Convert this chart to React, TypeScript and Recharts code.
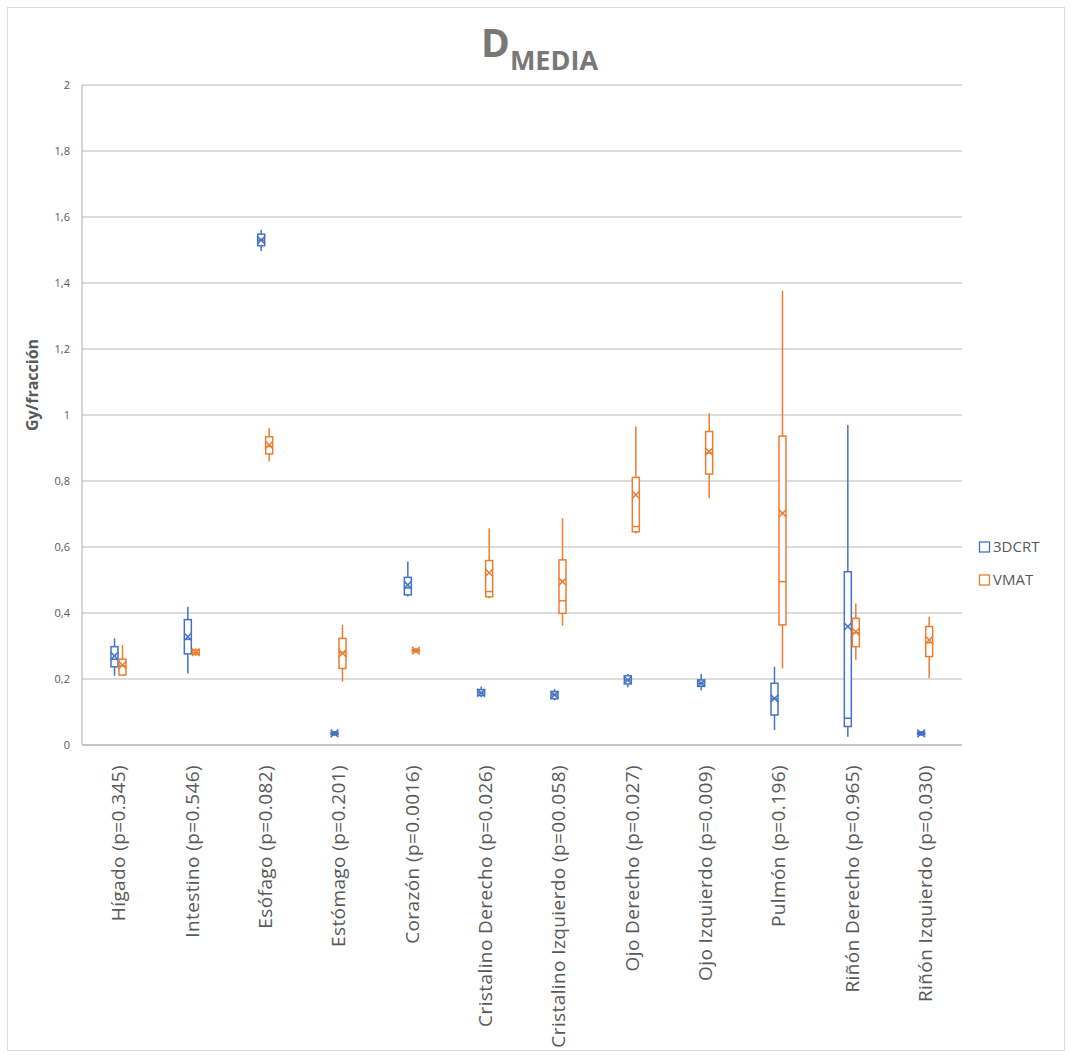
import { ComposedChart, Bar, XAxis, YAxis, CartesianGrid } from 'recharts'

const categories = [
  'Hígado (p=0.345)',
  'Intestino (p=0.546)',
  'Esófago (p=0.082)',
  'Estómago (p=0.201)',
  'Corazón (p=0.0016)',
  'Cristalino Derecho (p=0.026)',
  'Cristalino Izquierdo (p=00.058)',
  'Ojo Derecho (p=0.027)',
  'Ojo Izquierdo (p=0.009)',
  'Pulmón (p=0.196)',
  'Riñón Derecho (p=0.965)',
  'Riñón Izquierdo (p=0.030)',
]

// 3DCRT box stats
const crtMin = [0.21, 0.217, 1.497, 0.028, 0.45, 0.145, 0.135, 0.175, 0.165, 0.045, 0.025, 0.028]
const crtQ1 = [0.237, 0.276, 1.513, 0.031, 0.455, 0.15, 0.14, 0.185, 0.178, 0.091, 0.056, 0.031]
const crtMedian = [0.26, 0.32, 1.53, 0.035, 0.476, 0.158, 0.152, 0.197, 0.187, 0.14, 0.081, 0.035]
const crtQ3 = [0.298, 0.38, 1.548, 0.039, 0.508, 0.168, 0.162, 0.21, 0.197, 0.187, 0.525, 0.039]
const crtMax = [0.323, 0.419, 1.561, 0.042, 0.556, 0.177, 0.17, 0.215, 0.215, 0.237, 0.97, 0.042]
const crtMean = [0.27, 0.328, 1.53, 0.035, 0.485, 0.158, 0.152, 0.197, 0.187, 0.141, 0.359, 0.035]

// VMAT box stats
const vmatMin = [0.209, 0.27, 0.859, 0.192, 0.279, 0.445, 0.361, 0.641, 0.748, 0.232, 0.258, 0.202]
const vmatQ1 = [0.212, 0.275, 0.882, 0.232, 0.282, 0.449, 0.399, 0.646, 0.821, 0.364, 0.298, 0.268]
const vmatMedian = [0.24, 0.28, 0.905, 0.28, 0.286, 0.465, 0.437, 0.662, 0.885, 0.495, 0.34, 0.31]
const vmatQ3 = [0.26, 0.288, 0.934, 0.323, 0.29, 0.559, 0.561, 0.811, 0.95, 0.936, 0.384, 0.359]
const vmatMax = [0.303, 0.293, 0.96, 0.364, 0.293, 0.657, 0.687, 0.965, 1.005, 1.377, 0.429, 0.389]
const vmatMean = [0.242, 0.281, 0.909, 0.278, 0.286, 0.522, 0.495, 0.758, 0.889, 0.702, 0.343, 0.318]

const yTicks = [0, 0.2, 0.4, 0.6, 0.8, 1, 1.2, 1.4, 1.6, 1.8, 2]

const BLUE = '#4472C4'
const ORANGE = '#ED7D31'
const TEXT = '#595959'
const FONT = '"Open Sans", "DejaVu Sans", sans-serif'

const legendItems = [
  { label: '3DCRT', color: BLUE },
  { label: 'VMAT', color: ORANGE },
]

const data = categories.map((name, i) => ({
  name,
  crt: [crtMin[i], crtMax[i]],
  vmat: [vmatMin[i], vmatMax[i]],
  crtStats: { min: crtMin[i], q1: crtQ1[i], median: crtMedian[i], q3: crtQ3[i], max: crtMax[i], mean: crtMean[i] },
  vmatStats: { min: vmatMin[i], q1: vmatQ1[i], median: vmatMedian[i], q3: vmatQ3[i], max: vmatMax[i], mean: vmatMean[i] },
}))

function makeBoxShape(color: string, statsKey: 'crtStats' | 'vmatStats') {
  return function BoxShape(props: any) {
    const { x, y, width, height, payload } = props
    const s = payload[statsKey]
    const top = Math.min(y, y + height)
    const bottom = Math.max(y, y + height)
    const span = s.max - s.min || 1
    // map a value into the bar's scaled [min, max] extent
    const py = (v: number) => bottom - ((v - s.min) / span) * (bottom - top)
    const cx = x + width / 2
    const yQ1 = py(s.q1)
    const yQ3 = py(s.q3)
    const yMed = py(s.median)
    const yMean = py(s.mean)
    const m = 3.8
    return (
      <g stroke={color} strokeWidth={1.5} fill="none">
        <line x1={cx} x2={cx} y1={top} y2={yQ3} />
        <line x1={cx} x2={cx} y1={yQ1} y2={bottom} />
        <rect x={x} y={yQ3} width={width} height={Math.max(yQ1 - yQ3, 0.5)} fill="#fff" />
        <line x1={x} x2={x + width} y1={yMed} y2={yMed} />
        <line x1={cx - m} x2={cx + m} y1={yMean - m} y2={yMean + m} />
        <line x1={cx - m} x2={cx + m} y1={yMean + m} y2={yMean - m} />
      </g>
    )
  }
}

function CategoryTick(props: any) {
  const { x, y, payload } = props
  return (
    <g transform={`translate(${x},${y + 12})`}>
      <text
        x={0}
        y={0}
        dy="0.35em"
        textAnchor="end"
        transform="rotate(-90)"
        fill={TEXT}
        fontSize={19}
        letterSpacing={0.4}
        fontFamily={FONT}
      >
        {payload.value}
      </text>
    </g>
  )
}

export default function App() {
  return (
    <div style={{ position: 'absolute', left: 0, top: 0, width: 1071, height: 1055, background: '#fff' }}>
      <div
        style={{
          position: 'absolute',
          left: 7,
          top: 7,
          width: 1056,
          height: 1042,
          border: '1px solid #dcdcdc',
        }}
      />
      <ComposedChart
        width={1071}
        height={1055}
        data={data}
        margin={{ top: 85, right: 109, bottom: 90, left: 0 }}
        barSize={7}
        barGap={1}
        style={{ position: 'absolute', left: 0, top: 0 }}
      >
        <CartesianGrid vertical={false} stroke="#d3cfcf" strokeWidth={1.3} />
        <XAxis
          dataKey="name"
          interval={0}
          height={220}
          tickLine={false}
          axisLine={{ stroke: '#bfbfbf', strokeWidth: 1.3 }}
          tick={<CategoryTick />}
        />
        <YAxis
          type="number"
          domain={[0, 2]}
          ticks={yTicks}
          width={82}
          tickLine={false}
          tickMargin={6}
          axisLine={{ stroke: '#bfbfbf', strokeWidth: 1.3 }}
          tickFormatter={(v: number) => String(v).replace('.', ',')}
          tick={{ fill: TEXT, fontSize: 11, fontFamily: FONT }}
        />
        <Bar dataKey="crt" name="3DCRT" fill="none" shape={makeBoxShape(BLUE, 'crtStats')} isAnimationActive={false} />
        <Bar dataKey="vmat" name="VMAT" fill="none" shape={makeBoxShape(ORANGE, 'vmatStats')} isAnimationActive={false} />
      </ComposedChart>
      <svg width={1071} height={1055} style={{ position: 'absolute', left: 0, top: 0, pointerEvents: 'none' }}>
        <text x={481} y={57} fill="#7a7777" fontFamily={FONT} fontWeight="bold">
          <tspan fontSize={39}>D</tspan>
          <tspan fontSize={27} dy={13}>MEDIA</tspan>
        </text>
        <text
          x={32}
          y={385}
          dy="0.35em"
          textAnchor="middle"
          transform="rotate(-90, 32, 385)"
          fill={TEXT}
          fontFamily={FONT}
          fontWeight="bold"
          fontSize={16}
        >
          Gy/fracción
        </text>
        {legendItems.map((item, i) => (
          <g key={item.label} transform={`translate(979, ${547 + i * 33})`}>
            <rect x={0.5} y={-5} width={10} height={10} fill="none" stroke={item.color} strokeWidth={1.3} />
            <text x={14} y={0} dy="0.35em" fill={TEXT} fontFamily={FONT} fontSize={15}>
              {item.label}
            </text>
          </g>
        ))}
      </svg>
    </div>
  )
}
